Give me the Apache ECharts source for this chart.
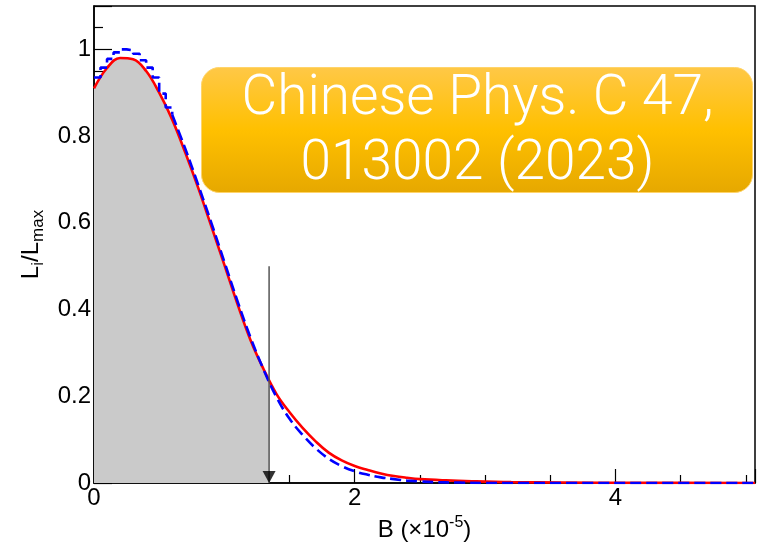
<!DOCTYPE html>
<html><head><meta charset="utf-8">
<script src="https://cdn.jsdelivr.net/npm/echarts@6/dist/echarts.min.js"></script>
<style>html,body{margin:0;padding:0;background:#fff}#c{width:767px;height:543px}</style>
</head><body><div id="c"></div>
<script>
// ---- data ----
const xMin = 0, xMax = 5.07;
const yMin = 0, yMax = 1.1;
const xTickStep = 2, yTickStep = 0.2;

// red smooth curve (fit)
const redX = [0,0.1,0.2,0.3,0.4,0.5,0.6,0.7,0.8,0.9,1.0,1.1,1.2,1.3,1.4,1.5,1.6,1.7,1.8,1.9,2.0,2.1,2.2,2.3,2.4,2.5,2.7,2.9,3.2,3.6,4.2,5.07];
const redY = [0.910,0.957,0.980,0.977,0.950,0.900,0.838,0.762,0.680,0.592,0.503,0.413,0.330,0.263,0.205,0.163,0.127,0.096,0.070,0.052,0.039,0.030,0.022,0.016,0.012,0.009,0.006,0.004,0.002,0.001,0.0003,0.0001];

// blue dashed histogram: stepped bins near the peak (bin width 0.05 from 0)
const blueBinStart = 0, blueBinWidth = 0.05;
const blueStepValues = [0.935,0.958,0.978,0.993,1.000,0.998,0.990,0.975,0.958,0.935,0.898,0.866];
// blue dashed histogram beyond the peak
const blueCurveX = [0.6,0.7,0.8,0.9,1.0,1.1,1.2,1.3,1.4,1.5,1.6,1.7,1.8,1.9,2.0,2.1,2.2,2.3,2.4,2.5,2.6,2.8,3.0,5.07];
const blueCurveY = [0.849,0.771,0.687,0.600,0.510,0.420,0.336,0.262,0.198,0.148,0.111,0.080,0.056,0.039,0.027,0.019,0.013,0.009,0.0055,0.0035,0.002,0.001,0,0];

// shaded region under the fit up to the limit
const limitX = 1.343;
const limitY = 0.237;
const arrowTop = 0.5;

// ---- build ----
const redData = redX.map((x, i) => [x, redY[i]]);
const grayData = [];
redX.forEach((x, i) => { if (x < limitX) grayData.push([x, redY[i]]); });
grayData.push([limitX, limitY]);
const blueStepData = blueStepValues.map((v, i) => [blueBinStart + i * blueBinWidth, v]);
blueStepData.push([blueCurveX[0], blueCurveY[0]]);
const blueCurveData = blueCurveX.map((x, i) => [x, blueCurveY[i]]);

const chart = echarts.init(document.getElementById('c'), null, {renderer: 'canvas'});
const FONT = 'Liberation Sans, Arial, Helvetica, sans-serif';
chart.setOption({
  animation: false,
  backgroundColor: '#fff',
  grid: {left: 94, right: 12, top: 6, bottom: 60, show: true, borderColor: '#000', borderWidth: 1.5,
         backgroundColor: 'transparent', containLabel: false, outerBoundsMode: 'none'},
  xAxis: {
    type: 'value', min: xMin, max: xMax, interval: xTickStep,
    axisLine: {lineStyle: {color: '#000', width: 1.5}},
    axisTick: {inside: true, length: 14, lineStyle: {color: '#000', width: 1.2}},
    minorTick: {show: true, splitNumber: 4, length: 8, lineStyle: {color: '#000', width: 1.2}},
    splitLine: {show: false},
    axisLabel: {fontSize: 24, color: '#000', margin: 3, showMaxLabel: false, fontFamily: FONT},
    name: 'B (×10{sup|-5})', nameLocation: 'middle', nameGap: 30,
    nameTextStyle: {fontSize: 24, color: '#000', fontFamily: FONT, lineHeight: 30,
      rich: {sup: {fontSize: 16, verticalAlign: 'top', color: '#000', fontFamily: FONT, lineHeight: 16}}}
  },
  yAxis: {
    type: 'value', min: yMin, max: yMax, interval: yTickStep,
    axisLine: {lineStyle: {color: '#000', width: 1.5}},
    axisTick: {inside: true, length: 18, lineStyle: {color: '#000', width: 1.2}},
    minorTick: {show: true, splitNumber: 4, length: 9, lineStyle: {color: '#000', width: 1.2}},
    splitLine: {show: false},
    axisLabel: {fontSize: 24, color: '#000', margin: 3, showMaxLabel: false, fontFamily: FONT},
    name: 'L{sub|i}/L{sub|max}', nameLocation: 'middle', nameGap: 46, nameRotate: 90,
    nameTextStyle: {fontSize: 24, color: '#000', fontFamily: FONT, lineHeight: 30,
      rich: {sub: {fontSize: 17, verticalAlign: 'bottom', color: '#000', fontFamily: FONT, lineHeight: 17}}}
  },
  series: [
    {type: 'line', data: grayData, smooth: 0.4, showSymbol: false, z: 1,
     lineStyle: {width: 0}, areaStyle: {color: '#cacaca', opacity: 1}},
    {type: 'line', data: redData, smooth: 0.4, showSymbol: false, z: 3,
     lineStyle: {color: '#ff0000', width: 2.6}},
    {type: 'line', data: blueStepData, step: 'end', showSymbol: false, z: 4,
     lineStyle: {color: '#0000ff', width: 2.6, type: [9, 5]}},
    {type: 'line', data: blueCurveData, smooth: 0.4, showSymbol: false, z: 4,
     lineStyle: {color: '#0000ff', width: 2.6, type: [11, 5]}},
    {type: 'line', data: [[limitX, arrowTop], [limitX, 0]], showSymbol: false, z: 5,
     lineStyle: {color: '#555', width: 1.5}},
    {type: 'scatter', data: [[limitX, 0]], z: 6,
     symbol: 'path://M0,0 L10,0 L5,10 Z', symbolSize: [13, 12], symbolOffset: [0, -6],
     itemStyle: {color: '#000'}}
  ],
  graphic: [{
    type: 'group', left: 201, top: 67, z: 100,
    children: [
      {type: 'rect', shape: {x: 0, y: 0, width: 551, height: 125, r: 18},
       style: {fill: {type: 'linear', x: 0, y: 0, x2: 0, y2: 1,
         colorStops: [{offset: 0, color: '#ffc847'}, {offset: 0.5, color: '#ffc000'}, {offset: 1, color: '#e6a800'}]},
         stroke: '#ffd46a', lineWidth: 1}},
      {type: 'text', style: {text: 'Chinese Phys. C 47,\n013002 (2023)', x: 276, y: 65,
        align: 'center', verticalAlign: 'middle', fill: '#fff',
        font: '300 55px Roboto, "Open Sans", sans-serif', lineHeight: 65}}
    ]
  }]
});
</script></body></html>
